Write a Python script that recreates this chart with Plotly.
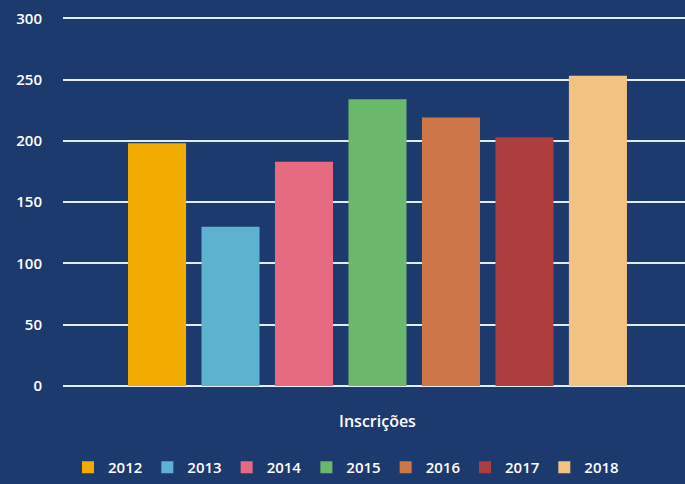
import plotly.graph_objects as go

category = ["Inscrições"]
years = ["2012", "2013", "2014", "2015", "2016", "2017", "2018"]
values = [198, 130, 183, 234, 219, 203, 253]
colors = ["#F0AC00", "#5DB3CF", "#E66B80", "#6BB86A", "#CD7648", "#AE3D3F", "#F2C283"]
y_ticks = [0, 50, 100, 150, 200, 250, 300]

fig = go.Figure()
for yr, v, c in zip(years, values, colors):
    fig.add_trace(go.Bar(name=yr, x=category, y=[v], marker=dict(color=c, line=dict(width=0))))

bg = "#1d3a6f"
fig.update_layout(
    width=685, height=484,
    paper_bgcolor=bg, plot_bgcolor=bg,
    margin=dict(l=63, r=0, t=6, b=98),
    barmode="group", bargap=0.173, bargroupgap=0.21,
    font=dict(family="Open Sans", color="white", size=14),
    showlegend=True,
    legend=dict(orientation="h", x=0.455, xanchor="center", y=-0.215, yanchor="middle",
                font=dict(size=15, color="white", weight=600), bgcolor="rgba(0,0,0,0)",
                traceorder="normal", itemwidth=30),
    xaxis=dict(range=[-0.5056, 0.4944], showgrid=False, zeroline=False, showline=False,
               ticks="", ticklabelstandoff=24,
               tickfont=dict(size=16, color="white", weight=600)),
    yaxis=dict(range=[0, 310], tickvals=y_ticks, showgrid=True, gridcolor="#e6ecf4", gridwidth=2,
               zeroline=True, zerolinecolor="#e6ecf4", zerolinewidth=2, showline=False,
               ticks="", ticklabelstandoff=20,
               tickfont=dict(size=15, color="white", weight=600)),
)

fig.write_html("out.html", config={"displayModeBar": False},
               post_script="document.body.style.margin='0';")
